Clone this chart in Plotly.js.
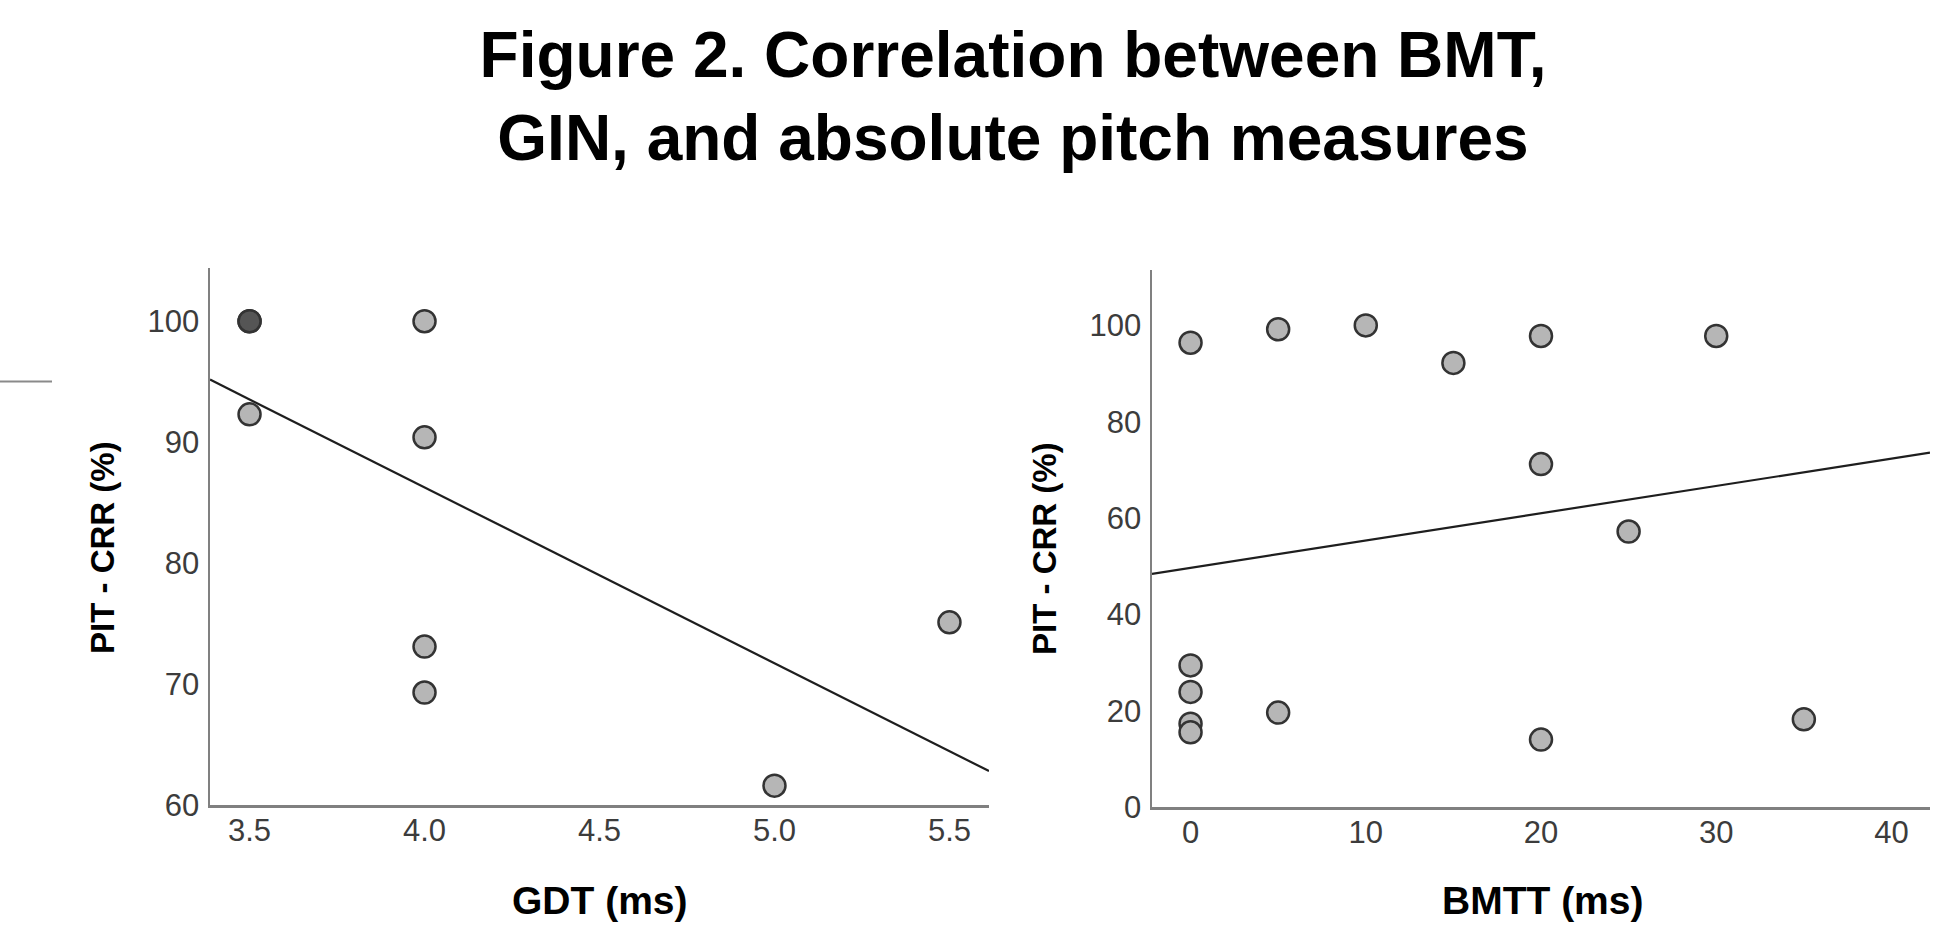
<!DOCTYPE html>
<html>
<head>
<meta charset="utf-8">
<script src="https://cdn.plot.ly/plotly-3.0.1.min.js"></script>
<style>
  html, body { margin: 0; padding: 0; background: #ffffff; }
  #chart { width: 1946px; height: 926px; }
</style>
</head>
<body>
<div id="chart"></div>
<script>
// ---- Data ----
// Left panel: GDT (ms) vs PIT - CRR (%)  (the darker dot at 3.5/100 is two coincident cases)
const gdtX = [3.5, 3.5, 3.5, 4.0, 4.0, 4.0, 4.0, 5.0, 5.5];
const gdtY = [100, 100, 92.3, 100, 90.4, 73.1, 69.3, 61.6, 75.1];
// Right panel: BMTT (ms) vs PIT - CRR (%)
const bmttX = [0, 5, 10, 15, 20, 30, 20, 25, 0, 0, 0, 0, 5, 20, 35];
const bmttY = [96.4, 99.2, 100, 92.2, 97.8, 97.8, 71.2, 57.2, 29.4, 23.9, 17.3, 15.5, 19.6, 14.0, 18.2];

const leftXTicks = [3.5, 4.0, 4.5, 5.0, 5.5];
const leftXTickText = ['3.5', '4.0', '4.5', '5.0', '5.5'];
const leftYTicks = [60, 70, 80, 90, 100];
const rightXTicks = [0, 10, 20, 30, 40];
const rightYTicks = [0, 20, 40, 60, 80, 100];

const titleText = 'Figure 2. Correlation between BMT,<br>GIN, and absolute pitch measures';
const leftXTitle = 'GDT (ms)';
const rightXTitle = 'BMTT (ms)';
const yTitle = 'PIT - CRR (%)';

// ---- Helpers ----
function linFit(xs, ys) {
  const n = xs.length;
  const mx = xs.reduce((a, b) => a + b, 0) / n;
  const my = ys.reduce((a, b) => a + b, 0) / n;
  let sxy = 0, sxx = 0;
  for (let i = 0; i < n; i++) { sxy += (xs[i] - mx) * (ys[i] - my); sxx += (xs[i] - mx) ** 2; }
  const b = sxy / sxx;
  return { a: my - b * mx, b: b };
}
function overlapColors(xs, ys) {
  const counts = {};
  xs.forEach((x, i) => { const k = x + '|' + ys[i]; counts[k] = (counts[k] || 0) + 1; });
  return xs.map((x, i) => counts[x + '|' + ys[i]] > 1 ? '#555555' : '#b6b6b6');
}

const leftRange = [3.387, 5.613];
const rightRange = [-2.2, 42.2];
const fitL = linFit(gdtX, gdtY);
const fitR = linFit(bmttX, bmttY);

const markerBase = { size: 22, line: { color: '#333333', width: 2.5 } };

const traces = [
  {
    x: leftRange, y: leftRange.map(x => fitL.a + fitL.b * x),
    xaxis: 'x', yaxis: 'y', mode: 'lines', type: 'scatter',
    line: { color: '#1e1e1e', width: 2.2 }, hoverinfo: 'skip', cliponaxis: false
  },
  {
    x: gdtX, y: gdtY, xaxis: 'x', yaxis: 'y', mode: 'markers', type: 'scatter',
    marker: Object.assign({}, markerBase, { color: overlapColors(gdtX, gdtY) }), cliponaxis: false
  },
  {
    x: rightRange, y: rightRange.map(x => fitR.a + fitR.b * x),
    xaxis: 'x2', yaxis: 'y2', mode: 'lines', type: 'scatter',
    line: { color: '#1e1e1e', width: 2.2 }, hoverinfo: 'skip', cliponaxis: false
  },
  {
    x: bmttX, y: bmttY, xaxis: 'x2', yaxis: 'y2', mode: 'markers', type: 'scatter',
    marker: Object.assign({}, markerBase, { color: overlapColors(bmttX, bmttY) }), cliponaxis: false
  }
];

const W = 1946, H = 926;
const tickFont = { family: 'Liberation Sans, Arial, sans-serif', size: 31, color: '#3c3c3c' };
const axisCommon = {
  showgrid: false, zeroline: false, showline: true, linecolor: '#808080', linewidth: 2.5,
  ticks: '', tickfont: tickFont, mirror: false, fixedrange: true
};
const xTitleFont = { family: 'Liberation Sans, Arial, sans-serif', size: 39, color: '#000000', weight: 'bold' };
const yTitleFont = { family: 'Liberation Sans, Arial, sans-serif', size: 33, color: '#000000', weight: 'bold' };

const layout = {
  width: W, height: H,
  margin: { l: 0, r: 0, t: 0, b: 0 },
  paper_bgcolor: '#ffffff', plot_bgcolor: '#ffffff',
  showlegend: false,
  title: {
    text: titleText,
    font: { family: 'Liberation Sans, Arial, sans-serif', size: 64, color: '#000000', weight: 'bold' },
    x: 1013 / W, xanchor: 'center', xref: 'paper',
    y: 1 - 77 / H, yanchor: 'top', yref: 'container'
  },
  xaxis: Object.assign({}, axisCommon, {
    domain: [210 / W, 989 / W], range: leftRange, anchor: 'y',
    tickvals: leftXTicks, ticktext: leftXTickText, ticklabelstandoff: -4
  }),
  yaxis: Object.assign({}, axisCommon, {
    domain: [1 - 805 / H, 1 - 268 / H], range: [60, 104.4], anchor: 'x',
    tickvals: leftYTicks, ticklabelstandoff: 2
  }),
  xaxis2: Object.assign({}, axisCommon, {
    domain: [1152 / W, 1930 / W], range: rightRange, anchor: 'y2',
    tickvals: rightXTicks, ticklabelstandoff: -4
  }),
  yaxis2: Object.assign({}, axisCommon, {
    domain: [1 - 807 / H, 1 - 270 / H], range: [0, 111.5], anchor: 'x2',
    tickvals: rightYTicks, ticklabelstandoff: 2
  }),
  annotations: [
    { text: leftXTitle, xref: 'paper', yref: 'paper', x: 600 / W, y: 1 - 900 / H, xanchor: 'center', yanchor: 'middle', showarrow: false, font: xTitleFont },
    { text: rightXTitle, xref: 'paper', yref: 'paper', x: 1542 / W, y: 1 - 900 / H, xanchor: 'center', yanchor: 'middle', showarrow: false, font: xTitleFont },
    { text: yTitle, xref: 'paper', yref: 'paper', x: 102 / W, y: 1 - 548 / H, xanchor: 'center', yanchor: 'middle', textangle: -90, showarrow: false, font: yTitleFont },
    { text: yTitle, xref: 'paper', yref: 'paper', x: 1044 / W, y: 1 - 549 / H, xanchor: 'center', yanchor: 'middle', textangle: -90, showarrow: false, font: yTitleFont }
  ],
  shapes: [
    { type: 'line', xref: 'paper', yref: 'paper', x0: 0, x1: 52 / W, y0: 1 - 381.5 / H, y1: 1 - 381.5 / H, line: { color: '#8a8a8a', width: 2 } }
  ]
};

Plotly.newPlot('chart', traces, layout, { displayModeBar: false, staticPlot: true });
</script>
</body>
</html>
